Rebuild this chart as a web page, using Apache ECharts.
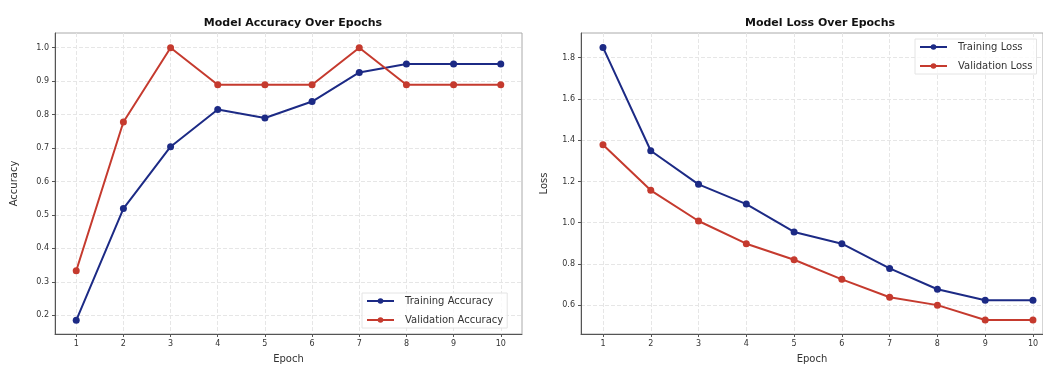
<!DOCTYPE html>
<html>
<head>
<meta charset="utf-8">
<script src="https://cdn.jsdelivr.net/npm/echarts@6/dist/echarts.min.js"></script>
<style>
  html, body { margin: 0; padding: 0; background: #fff; }
  #chart { width: 1043px; height: 369px; }
</style>
</head>
<body>
<div id="chart"></div>
<script>
const epochs = [1, 2, 3, 4, 5, 6, 7, 8, 9, 10];
const trainAcc = [0.185, 0.519, 0.704, 0.815, 0.790, 0.839, 0.926, 0.951, 0.951, 0.951];
const valAcc = [0.333, 0.778, 1.0, 0.889, 0.889, 0.889, 1.0, 0.889, 0.889, 0.889];
const trainLoss = [1.85, 1.349, 1.186, 1.09, 0.955, 0.898, 0.778, 0.677, 0.624, 0.624];
const valLoss = [1.378, 1.157, 1.008, 0.898, 0.82, 0.725, 0.638, 0.6, 0.528, 0.528];
const accTicks = [0.2, 0.3, 0.4, 0.5, 0.6, 0.7, 0.8, 0.9, 1.0];
const lossTicks = [0.6, 0.8, 1.0, 1.2, 1.4, 1.6, 1.8];

const BLUE = "#1c2a85";
const RED = "#c53a2e";
const FONT = "DejaVu Sans";

const chart = echarts.init(document.getElementById("chart"));

const pairs = (ys) => epochs.map((e, i) => [e, ys[i]]);

// right panel is cut off by the figure edge, so its x range stops early
function xAxis(gridIndex, min, max) {
  return {
    type: "value",
    gridIndex: gridIndex,
    min: min,
    max: max,
    name: "Epoch",
    nameLocation: "middle",
    nameGap: 20,
    nameTextStyle: { fontFamily: FONT, fontSize: 10, color: "#333" },
    axisLine: { show: true, lineStyle: { color: "#555", width: 1 } },
    axisTick: { show: true, customValues: epochs, length: 3, lineStyle: { color: "#555" } },
    axisLabel: { customValues: epochs, fontFamily: FONT, fontSize: 8, color: "#333", margin: 6 },
    splitLine: { show: true, lineStyle: { color: "#e6e6e6", type: "dashed" } },
  };
}

function yAxis(gridIndex, min, max, ticks, name, gap) {
  return {
    type: "value",
    gridIndex: gridIndex,
    min: min,
    max: max,
    name: name,
    nameLocation: "middle",
    nameGap: gap,
    nameTextStyle: { fontFamily: FONT, fontSize: 10, color: "#333" },
    axisLine: { show: true, lineStyle: { color: "#555", width: 1 } },
    axisTick: { show: true, customValues: ticks, length: 3, lineStyle: { color: "#555" } },
    axisLabel: {
      customValues: ticks,
      fontFamily: FONT,
      fontSize: 8,
      color: "#333",
      margin: 6,
      formatter: (v) => v.toFixed(1),
    },
    splitLine: { show: true, lineStyle: { color: "#e6e6e6", type: "dashed" } },
  };
}

function line(name, ys, color, idx) {
  return {
    name: name,
    type: "line",
    xAxisIndex: idx,
    yAxisIndex: idx,
    data: pairs(ys),
    symbol: "circle",
    symbolSize: 7,
    lineStyle: { color: color, width: 2 },
    itemStyle: { color: color },
    emphasis: { disabled: true },
  };
}

function legend(names, left, top) {
  return {
    data: names,
    orient: "vertical",
    left: left,
    top: top,
    itemWidth: 27,
    itemHeight: 7,
    itemGap: 9,
    padding: [3, 4],
    borderColor: "#e4e4e4",
    borderWidth: 1,
    backgroundColor: "rgba(255,255,255,0.8)",
    textStyle: { fontFamily: FONT, fontSize: 10, color: "#333", padding: [0, 0, 0, 6] },
  };
}

const option = {
  animation: false,
  title: [
    {
      text: "Model Accuracy Over Epochs",
      left: 288,
      top: 13,
      textAlign: "center",
      textStyle: { fontFamily: FONT, fontSize: 11, fontWeight: "bold", color: "#111" },
    },
    {
      text: "Model Loss Over Epochs",
      left: 815,
      top: 13,
      textAlign: "center",
      textStyle: { fontFamily: FONT, fontSize: 11, fontWeight: "bold", color: "#111" },
    },
  ],
  grid: [
    { left: 55, top: 33, width: 467, height: 304, show: true, borderColor: "#aaa", borderWidth: 1 },
    { left: 581, top: 33, right: 0, height: 304, show: true, borderColor: "#aaa", borderWidth: 1 },
  ],
  legend: [
    legend(["Training Accuracy", "Validation Accuracy"], 362, 293),
    legend(["Training Loss", "Validation Loss"], 915, 39),
  ],
  xAxis: [xAxis(0, 0.55, 10.45), xAxis(1, 0.54, 10.21)],
  yAxis: [
    yAxis(0, 0.144, 1.044, accTicks, "Accuracy", 36),
    yAxis(1, 0.46, 1.92, lossTicks, "Loss", 32),
  ],
  series: [
    line("Training Accuracy", trainAcc, BLUE, 0),
    line("Validation Accuracy", valAcc, RED, 0),
    line("Training Loss", trainLoss, BLUE, 1),
    line("Validation Loss", valLoss, RED, 1),
  ],
};

chart.setOption(option);
</script>
</body>
</html>
